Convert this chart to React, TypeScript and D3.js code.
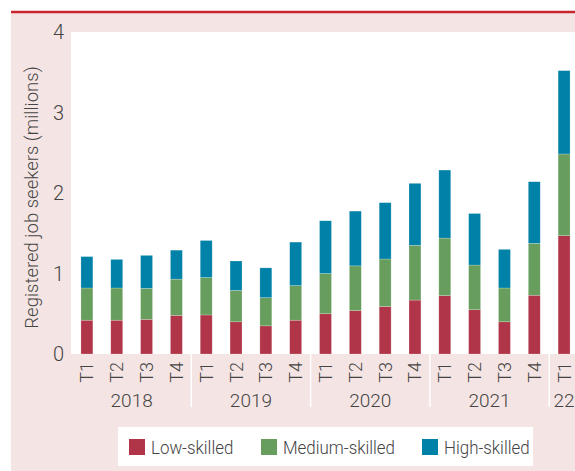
import * as d3 from 'd3';

const years = ['2018', '2019', '2020', '2021', '22'];
const quarters = [
  ['T1', 'T2', 'T3', 'T4'],
  ['T1', 'T2', 'T3', 'T4'],
  ['T1', 'T2', 'T3', 'T4'],
  ['T1', 'T2', 'T3', 'T4'],
  ['T1'],
];
const lowSkilled = [0.42, 0.42, 0.43, 0.48, 0.485, 0.40, 0.35, 0.42, 0.50, 0.54, 0.59, 0.67, 0.725, 0.55, 0.40, 0.73, 1.47];
const mediumSkilled = [0.40, 0.40, 0.385, 0.45, 0.465, 0.39, 0.35, 0.43, 0.50, 0.555, 0.59, 0.68, 0.715, 0.555, 0.42, 0.645, 1.015];
const highSkilled = [0.39, 0.355, 0.41, 0.36, 0.46, 0.365, 0.37, 0.54, 0.655, 0.68, 0.70, 0.77, 0.845, 0.64, 0.48, 0.765, 1.035];
const seriesNames = ['Low-skilled', 'Medium-skilled', 'High-skilled'];
const colors = ['#b03548', '#679e5e', '#0081a7'];
const yTicks = [0, 1, 2, 3, 4];

const W = 575;
const H = 471;
const font = 'Roboto, "Liberation Sans", sans-serif';
const textColor = '#444';

const App = () => {
  // one entry per bar
  const bars: { key: string; q: string; year: number; i: number }[] = [];
  quarters.forEach((qs, yi) => qs.forEach((q) => {
    bars.push({ key: years[yi] + q, q, year: yi, i: bars.length });
  }));

  const rows = bars.map((b) => ({
    key: b.key,
    low: lowSkilled[b.i],
    medium: mediumSkilled[b.i],
    high: highSkilled[b.i],
  }));
  const stack = d3.stack<any>().keys(['low', 'medium', 'high'])(rows);

  const x = d3.scaleBand<string>()
    .domain(bars.map((b) => b.key))
    .range([72, 579])
    .paddingInner(0.6)
    .paddingOuter(0.3);
  const y = d3.scaleLinear().domain([0, 4]).range([354, 32]);
  const step = x.step();

  // year groups: center + separator before
  const groups = years.map((yr, yi) => {
    const gb = bars.filter((b) => b.year === yi);
    const first = x(gb[0].key)! + x.bandwidth() / 2;
    const last = x(gb[gb.length - 1].key)! + x.bandwidth() / 2;
    return { yr, center: (first + last) / 2, sepLeft: first - step / 2 };
  });

  const legendX = [129, 261, 422];

  return (
    <svg width={W} height={H} style={{ position: 'absolute', left: 0, top: 0, fontFamily: font }}>
      <rect x={0} y={0} width={W} height={H} fill="#fff" />
      <rect x={11} y={12} width={W - 11} height={H - 12} fill="#f4e4e3" />
      <line x1={11} x2={W} y1={12} y2={12} stroke="#c9252f" strokeWidth={2.5} />
      <rect x={71} y={y(4)} width={W - 71} height={y(0) - y(4)} fill="#fff" />

      {stack.map((s, si) => (
        <g key={si} fill={colors[si]}>
          {s.map((d: any, i: number) => (
            <rect
              key={i}
              x={x(rows[i].key)}
              y={y(d[1])}
              width={x.bandwidth()}
              height={y(d[0]) - y(d[1])}
              stroke="#ffffff"
              strokeOpacity={0.35}
              strokeWidth={0.6}
            />
          ))}
        </g>
      ))}

      {/* year separators */}
      {groups.slice(1).map((g, i) => (
        <line key={i} x1={g.sepLeft} x2={g.sepLeft} y1={y(0)} y2={407} stroke="#fff" strokeWidth={1.5} />
      ))}

      {/* y ticks */}
      {yTicks.map((t) => (
        <text key={t} x={64} y={y(t)} dy="0.36em" textAnchor="end" fontSize={20} fontWeight={300} fill={textColor}>
          {t}
        </text>
      ))}

      <text
        transform={`translate(38,197.5) rotate(-90)`}
        textAnchor="middle"
        fontSize={18.5}
        fontWeight={300}
        fill={textColor}
      >
        Registered job seekers (millions)
      </text>

      {/* quarter labels */}
      {bars.map((b) => (
        <text
          key={b.key}
          transform={`translate(${x(b.key)! + x.bandwidth() / 2 + 6.5},362) rotate(-90)`}
          textAnchor="end"
          fontSize={18}
          fontWeight={300}
          fill={textColor}
        >
          {b.q}
        </text>
      ))}

      {groups.map((g) => (
        <text key={g.yr} x={g.center} y={407} textAnchor="middle" fontSize={19} fontWeight={300} fill={textColor}>
          {g.yr}
        </text>
      ))}

      {/* legend */}
      <rect x={118} y={427} width={415} height={39} fill="#fff" />
      {seriesNames.map((n, i) => (
        <g key={n}>
          <rect x={legendX[i]} y={439} width={16} height={16} fill={colors[i]} />
          <text
            transform={`translate(${legendX[i] + 22},453.5) scale(0.89,1)`}
            fontSize={19}
            fontWeight={300}
            fill={textColor}
          >
            {n}
          </text>
        </g>
      ))}
    </svg>
  );
};

export default App;
